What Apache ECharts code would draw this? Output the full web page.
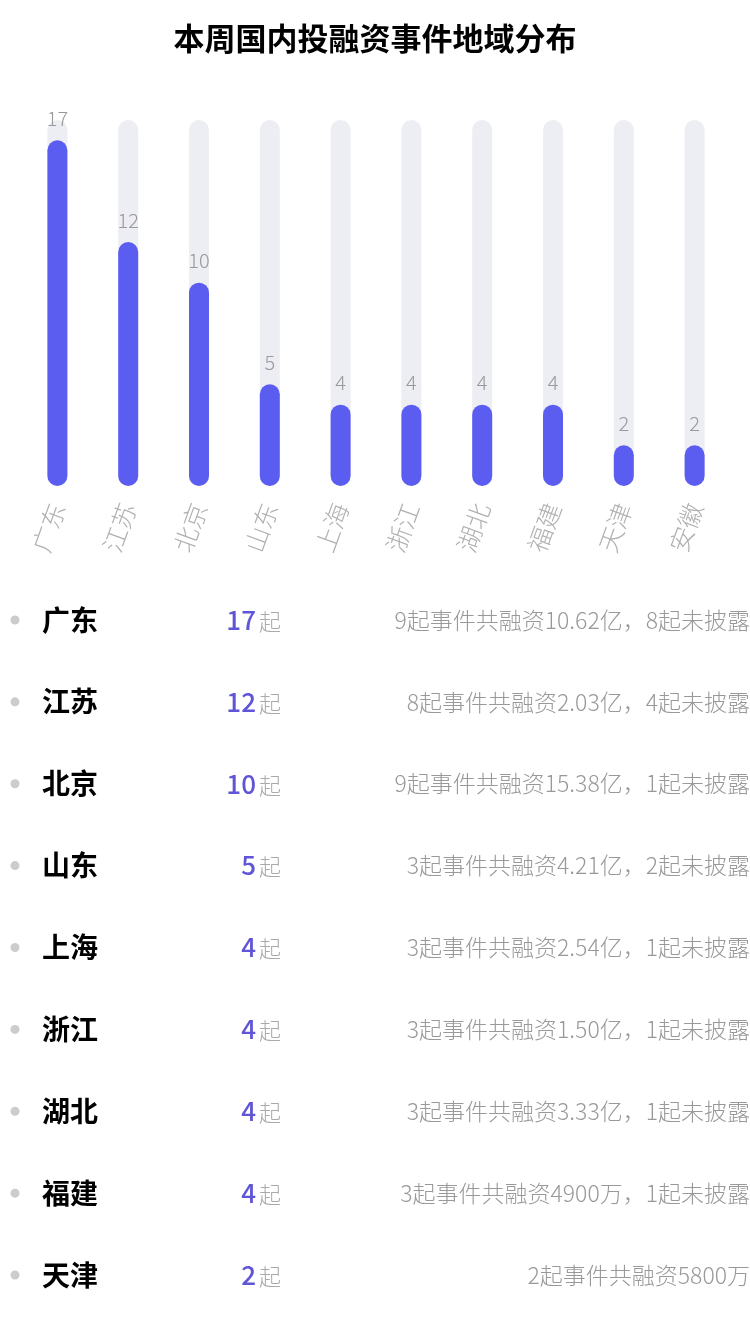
<!DOCTYPE html>
<html>
<head>
<meta charset="utf-8">
<script src="https://cdn.jsdelivr.net/npm/echarts@6/dist/echarts.min.js"></script>
<style>
  html, body { margin: 0; padding: 0; background: #fff; }
  #main { width: 750px; height: 1334px; }
</style>
</head>
<body>
<div id="main"></div>
<script>
// chart data
var regions = ['广东', '江苏', '北京', '山东', '上海', '浙江', '湖北', '福建', '天津', '安徽'];
var counts = [17, 12, 10, 5, 4, 4, 4, 4, 2, 2];

// list below the chart (only the rows visible in the picture)
var listRegions = ['广东', '江苏', '北京', '山东', '上海', '浙江', '湖北', '福建', '天津'];
var listCounts = [17, 12, 10, 5, 4, 4, 4, 4, 2];
var listNotes = [
  '9起事件共融资10.62亿，8起未披露',
  '8起事件共融资2.03亿，4起未披露',
  '9起事件共融资15.38亿，1起未披露',
  '3起事件共融资4.21亿，2起未披露',
  '3起事件共融资2.54亿，1起未披露',
  '3起事件共融资1.50亿，1起未披露',
  '3起事件共融资3.33亿，1起未披露',
  '3起事件共融资4900万，1起未披露',
  '2起事件共融资5800万'
];

var font = '"Noto Sans CJK SC", "Noto Sans", sans-serif';
var chartDom = document.getElementById('main');
var myChart = echarts.init(chartDom);

// shared bits for the text-only scatter rows
var textRow = {
  type: 'scatter',
  xAxisIndex: 1,
  yAxisIndex: 1,
  symbolSize: 0,
  silent: true,
  itemStyle: { opacity: 1 }
};

var option = {
  backgroundColor: '#fff',
  textStyle: { fontFamily: font },
  title: {
    text: '本周国内投融资事件地域分布',
    left: 'center',
    top: 18,
    textStyle: { fontSize: 31, fontWeight: 'bold', color: '#000', fontFamily: font }
  },
  grid: [
    { left: 22, right: 20, top: 120, height: 366 },
    { left: 0, right: 0, top: 579, height: 737 }
  ],
  xAxis: [
    {
      type: 'category',
      gridIndex: 0,
      data: regions,
      axisLine: { show: false },
      axisTick: { show: false },
      axisLabel: {
        rotate: 70,
        margin: 18,
        fontSize: 25,
        fontWeight: 300,
        color: '#b0b0b0',
        fontFamily: font
      }
    },
    { type: 'value', gridIndex: 1, min: 0, max: 750, show: false }
  ],
  yAxis: [
    { type: 'value', gridIndex: 0, min: 0, max: 18, show: false },
    { type: 'category', gridIndex: 1, data: listRegions, inverse: true, show: false }
  ],
  series: [
    {
      name: '事件数',
      type: 'bar',
      xAxisIndex: 0,
      yAxisIndex: 0,
      data: counts,
      barWidth: 20,
      showBackground: true,
      backgroundStyle: { color: '#ededf4', borderRadius: 10 },
      itemStyle: { color: '#5b5cf0', borderRadius: 10 },
      label: {
        show: true,
        position: 'top',
        distance: 12,
        fontSize: 20,
        fontWeight: 300,
        color: '#999',
        fontFamily: font
      }
    },
    {
      name: 'dot',
      type: 'scatter',
      xAxisIndex: 1,
      yAxisIndex: 1,
      symbolSize: 9,
      silent: true,
      itemStyle: { color: '#cccccc', opacity: 1 },
      data: listRegions.map(function (r) { return [15, r]; })
    },
    Object.assign({}, textRow, {
      name: 'region',
      data: listRegions.map(function (r) { return [42, r]; }),
      label: {
        show: true,
        position: 'inside',
        align: 'left',
        verticalAlign: 'middle',
        formatter: function (p) { return p.value[1]; },
        fontSize: 28,
        fontWeight: 'bold',
        color: '#000',
        fontFamily: font
      }
    }),
    Object.assign({}, textRow, {
      name: 'count',
      data: listRegions.map(function (r, i) { return [281, r, listCounts[i]]; }),
      label: {
        show: true,
        position: 'inside',
        align: 'right',
        verticalAlign: 'middle',
        formatter: function (p) { return '{n|' + p.value[2] + '}{u|起}'; },
        rich: {
          n: { fontSize: 26, fontWeight: 500, color: '#5f55d6', fontFamily: font, padding: [0, 3, 0, 0] },
          u: { fontSize: 22, fontWeight: 300, color: '#aaa', fontFamily: font, padding: [3, 0, 0, 0] }
        }
      }
    }),
    Object.assign({}, textRow, {
      name: 'note',
      data: listRegions.map(function (r, i) { return [750, r, listNotes[i]]; }),
      label: {
        show: true,
        position: 'inside',
        align: 'right',
        verticalAlign: 'middle',
        formatter: function (p) { return p.value[2]; },
        fontSize: 23,
        fontWeight: 300,
        color: '#999',
        fontFamily: font
      }
    })
  ]
};

option && myChart.setOption(option);
</script>
</body>
</html>
